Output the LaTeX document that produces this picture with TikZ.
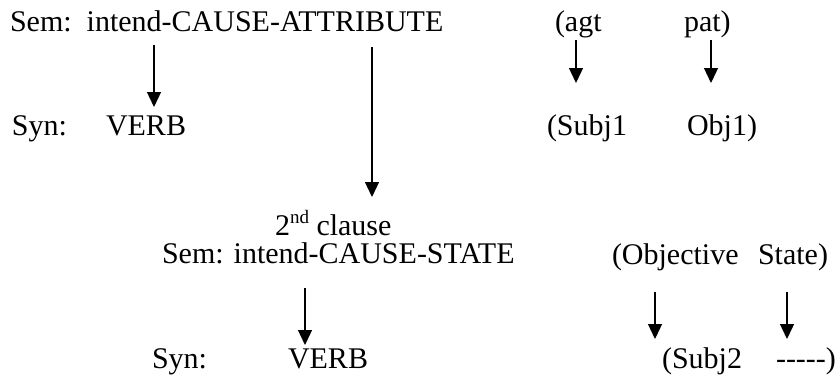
\documentclass[tikz,border=0pt]{standalone}
\usepackage{fontspec}
\setmainfont{Liberation Serif}
\usetikzlibrary{arrows.meta}
\begin{document}
\begin{tikzpicture}[x=1pt,y=-1pt,
  txt/.style={anchor=base west,inner sep=0pt,outer sep=0pt,font=\fontsize{30}{36}\selectfont},
  arr/.style={line width=1.3pt,-{Triangle[width=14pt,length=15pt]}}]
\useasboundingbox (0,0) rectangle (837,383);
% row 1
\node[txt] (sem1) at (10,31) {Sem:\hspace{15pt}intend-CAUSE-ATTRIBUTE};
\node[txt] (agt) at (555,31) {(agt};
\node[txt] (pat) at (684,31) {pat)};
% row 2
\node[txt] (syn1) at (12,135) {Syn:};
\node[txt] (verb1) at (106,135) {VERB};
\node[txt] (subj1) at (547,135) {(Subj1};
\node[txt] (obj1) at (687,135) {Obj1)};
% row 3
\node[txt] (clause) at (275,235) {2\raisebox{12pt}{\fontsize{19}{20}\selectfont nd} clause};
\node[txt] (sem2) at (162,263) {Sem: intend-CAUSE-STATE};
\node[txt] (objective) at (612,264) {(Objective};
\node[txt] (state) at (758,264) {State)};
% row 4
\node[txt] (syn2) at (152,368) {Syn:};
\node[txt] (verb2) at (288,368) {VERB};
\node[txt] (subj2) at (662,368) {(Subj2};
\node[txt] (dash) at (776,368) {-{}-{}-{}-{}-)};
% arrow columns
\coordinate (xa1) at (154,0);
\coordinate (xa2) at (372,0);
\coordinate (xa3) at (576,0);
\coordinate (xa4) at (711,0);
\coordinate (xa5) at (305,0);
\coordinate (xa6) at (655,0);
\coordinate (xa7) at (787,0);
% arrows
\draw[arr,shorten <=14pt,shorten >=28pt] (sem1.base -| xa1) -- (verb1.base -| xa1);
\draw[arr,shorten <=16pt,shorten >=38pt] (sem1.base -| xa2) -- (clause.base -| xa2);
\draw[arr,shorten <=9pt,shorten >=52pt] (agt.base -| xa3) -- (subj1.base -| xa3);
\draw[arr,shorten <=9pt,shorten >=52pt] (pat.base -| xa4) -- (obj1.base -| xa4);
\draw[arr,shorten <=25pt,shorten >=23pt] (sem2.base -| xa5) -- (verb2.base -| xa5);
\draw[arr,shorten <=28pt,shorten >=29pt] (objective.base -| xa6) -- (subj2.base -| xa6);
\draw[arr,shorten <=28pt,shorten >=29pt] (state.base -| xa7) -- (dash.base -| xa7);
\end{tikzpicture}
\end{document}
